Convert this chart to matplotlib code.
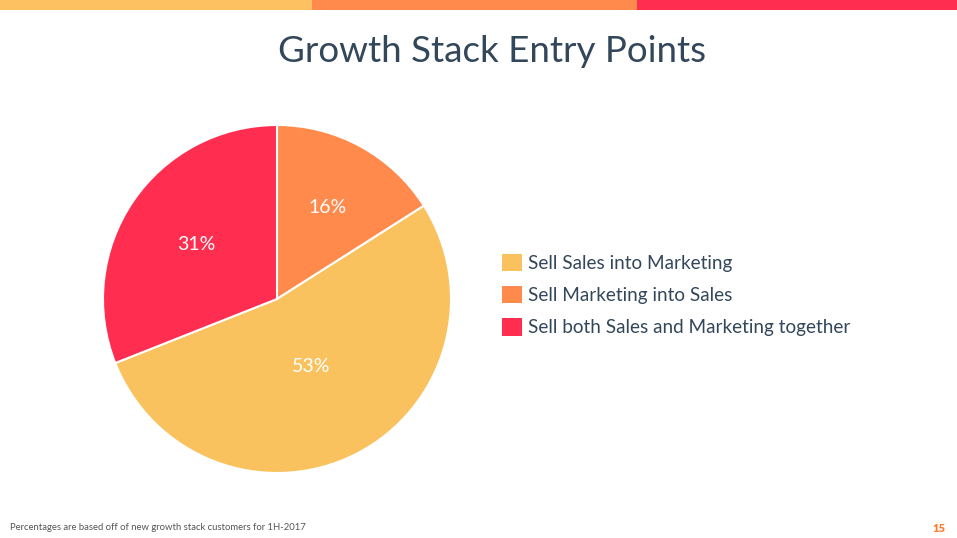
import matplotlib.pyplot as plt
from matplotlib.patches import Rectangle

plt.rcParams['font.family'] = ['Lato', 'DejaVu Sans']

# data (clockwise from 12 o'clock)
labels = ['Sell Marketing into Sales', 'Sell Sales into Marketing',
          'Sell both Sales and Marketing together']
shares = [16, 53, 31]
colors = ['#FF8A4C', '#F9C25F', '#FF2D4F']
legend_order = [1, 0, 2]

navy = '#33475B'

fig = plt.figure(figsize=(9.57, 5.38), dpi=100)

# top colour band
band = fig.add_axes([0, 1 - 10 / 538, 1, 10 / 538])
band.set_xlim(0, 957)
band.set_ylim(0, 1)
band.axis('off')
for x0, x1, c in [(0, 312, '#FDC162'), (312, 637, '#FF8A4C'), (637, 957, '#FF2D4F')]:
    band.add_patch(Rectangle((x0, 0), x1 - x0, 1, color=c, lw=0))

fig.text(0.514, 1 - 51 / 538, 'Growth Stack Entry Points', ha='center', va='center',
         fontsize=26.5, color=navy)

ax = fig.add_axes([(277 - 174) / 957, (538 - 299 - 174) / 538, 348 / 957, 348 / 538])
wedges, texts, autotexts = ax.pie(shares, colors=colors, startangle=90, counterclock=False,
                                  autopct=lambda p: '%d%%' % round(p), pctdistance=0.6,
                                  wedgeprops=dict(edgecolor='white', linewidth=1.5),
                                  textprops=dict(color='white', fontsize=14))
# pull the labels a little toward where they sit in the original
for t, f in zip(autotexts, [1.0, 0.73, 0.93]):
    x, y = t.get_position()
    t.set_position((x * f, y * f))
ax.set_xlim(-1, 1)
ax.set_ylim(-1, 1)
ax.set_aspect('equal')

handles = [wedges[i] for i in legend_order]
names = [labels[i] for i in legend_order]
leg = fig.legend(handles, names, loc='center left', bbox_to_anchor=(502 / 957, 1 - 295 / 538),
                 frameon=False, fontsize=13.6, handlelength=1.05, handleheight=1.05,
                 handletextpad=0.3, labelspacing=0.75, borderpad=0, borderaxespad=0)
for t in leg.get_texts():
    t.set_color(navy)
for h in leg.legend_handles:
    h.set_edgecolor('none')

fig.text(10 / 957, 1 - 528 / 538, 'Percentages are based off of new growth stack customers for 1H-2017',
         fontsize=6.8, color='#555555', va='center')
fig.text(945 / 957, 1 - 528 / 538, '15', fontsize=8, color='#FF7A2F', fontweight='heavy',
         ha='right', va='center')

fig.savefig('out.png', dpi=100)
